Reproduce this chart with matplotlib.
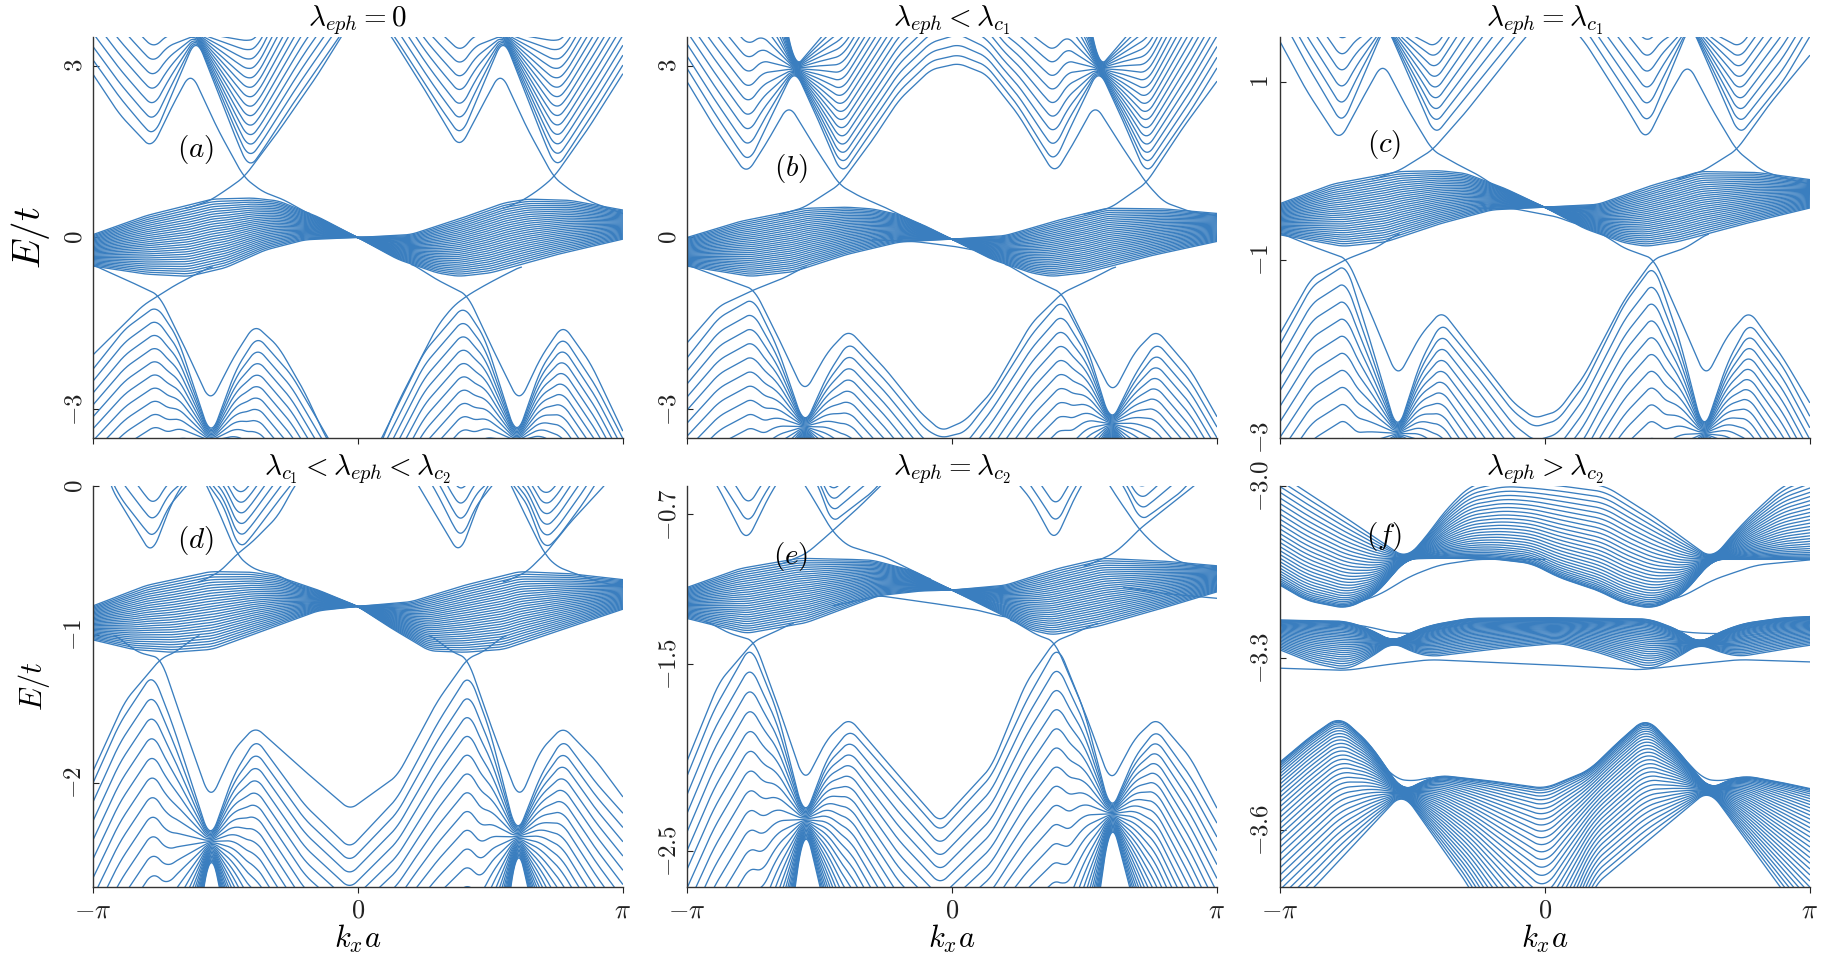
import numpy as np
import matplotlib
matplotlib.use('Agg')
import matplotlib.pyplot as plt

plt.rcParams['mathtext.fontset'] = 'cm'
plt.rcParams['font.family'] = 'DejaVu Serif'

BLUE = '#3a7ebf'
LW = 0.95

# ---- band data: (k/pi, E/t) key points ----
# panel (a)  lambda_eph = 0
a_up_lo = [(-1.0, 3.1), (-0.9, 2.45), (-0.81, 1.95), (-0.77, 1.76), (-0.72, 2.3), (-0.61, 3.5), (-0.5, 2.2),
           (-0.44, 1.5), (-0.41, 1.2), (-0.37, 1.45), (-0.25, 2.3), (-0.07, 3.5), (0.03, 4.2), (0.14, 3.5),
           (0.3, 2.35), (0.36, 1.95), (0.39, 1.76), (0.44, 2.3), (0.55, 3.5), (0.66, 2.2), (0.72, 1.5),
           (0.75, 1.2), (0.79, 1.47), (0.9, 2.25), (1.0, 3.0)]
a_up_hi = [(-1.0, 6.6), (-0.72, 5.4), (-0.61, 3.6), (-0.38, 3.8), (-0.2, 5.6), (0.03, 7.0), (0.25, 5.6),
           (0.44, 5.4), (0.55, 3.6), (0.78, 3.8), (1.0, 5.6)]
a_mid_1 = [(-1.0, 0.05), (-0.8, 0.38), (-0.55, 0.67), (-0.4, 0.69), (-0.3, 0.64), (-0.15, 0.36), (0.0, 0.0),
           (0.15, -0.38), (0.3, -0.62), (0.38, -0.68), (0.5, -0.62), (0.75, -0.3), (1.0, -0.03)]
a_mid_2 = [(-1.0, -0.5), (-0.8, -0.64), (-0.64, -0.68), (-0.5, -0.53), (-0.35, -0.22), (-0.2, -0.04), (0.0, 0.0),
           (0.2, 0.05), (0.4, 0.35), (0.55, 0.6), (0.64, 0.67), (0.8, 0.65), (1.0, 0.48)]
a_lo_hi = [(-1.0, -2.3), (-0.88, -1.6), (-0.76, -1.19), (-0.68, -1.75), (-0.555, -3.5), (-0.46, -2.3),
           (-0.38, -1.72), (-0.25, -2.4), (-0.1, -3.6), (0.0, -4.3), (0.08, -3.6), (0.25, -2.0), (0.4, -1.19),
           (0.48, -1.75), (0.6, -3.5), (0.69, -2.3), (0.775, -1.72), (0.9, -2.6), (1.0, -3.5)]
a_lo_lo = [(-1.0, -7.5), (-0.72, -6.9), (-0.555, -3.65), (-0.4, -6.7), (-0.2, -8.0), (0.0, -9.0), (0.2, -8.0),
           (0.44, -6.9), (0.6, -3.65), (0.78, -6.7), (1.0, -8.0)]
a_edges = [
    [(-1.0, 2.85), (-0.9, 2.15), (-0.778, 1.55), (-0.7, 2.3), (-0.63, 2.9), (-0.53, 1.9), (-0.43, 1.05),
     (-0.36, 0.8), (-0.28, 0.66), (-0.18, 0.4)],
    [(-0.65, 0.5), (-0.56, 0.64), (-0.5, 0.82), (-0.43, 1.05), (-0.3, 1.85), (-0.15, 2.85), (-0.05, 3.6),
     (0.03, 4.0), (0.114, 3.6), (0.25, 2.6), (0.385, 1.55), (0.47, 2.3), (0.54, 2.9), (0.64, 1.9), (0.74, 1.05),
     (0.81, 0.8), (0.88, 0.62), (1.0, 0.42)],
    [(0.55, 0.5), (0.62, 0.64), (0.68, 0.82), (0.74, 1.05), (0.87, 1.9), (1.0, 2.85)],
    [(-1.0, -0.48), (-0.86, -0.77), (-0.75, -1.01), (-0.65, -1.95), (-0.557, -2.89), (-0.47, -2.1),
     (-0.39, -1.52), (-0.3, -1.9), (-0.2, -2.7), (-0.12, -3.5), (-0.05, -4.0)],
    [(-1.0, -2.05), (-0.88, -1.5), (-0.81, -1.18), (-0.75, -1.01), (-0.7, -0.86), (-0.64, -0.71),
     (-0.55, -0.5)],
    [(0.05, -4.0), (0.15, -2.9), (0.3, -1.55), (0.36, -1.2), (0.415, -1.01), (0.47, -0.86), (0.53, -0.71),
     (0.62, -0.5)],
    [(0.2, -0.45), (0.3, -0.74), (0.415, -1.01), (0.51, -1.95), (0.61, -2.89), (0.69, -2.1), (0.775, -1.52),
     (0.88, -2.2), (1.0, -3.37)],
]

# panel (b)  lambda_eph < lambda_c1
b_up_lo = [(-1.0, 2.95), (-0.9, 2.2), (-0.8, 1.5), (-0.766, 1.3), (-0.72, 1.75), (-0.594, 2.95), (-0.5, 2.0),
           (-0.45, 1.45), (-0.415, 1.09), (-0.37, 1.4), (-0.2, 2.55), (-0.08, 3.08), (0.025, 3.19), (0.13, 3.0),
           (0.25, 2.3), (0.35, 1.55), (0.388, 1.3), (0.43, 1.75), (0.555, 2.95), (0.65, 2.0), (0.7, 1.45),
           (0.734, 1.09), (0.78, 1.4), (0.9, 2.2), (1.0, 2.95)]
b_up_hi = [(-1.0, 7.0), (-0.72, 6.0), (-0.594, 2.95), (-0.4, 4.0), (-0.2, 5.6), (0.025, 6.6), (0.2, 5.6),
           (0.43, 6.0), (0.555, 2.95), (0.75, 4.0), (1.0, 6.5)]
b_mid_1 = [(-1.0, 0.0), (-0.8, 0.28), (-0.55, 0.51), (-0.4, 0.53), (-0.3, 0.5), (-0.2, 0.4), (-0.1, 0.2),
           (0.0, -0.03), (0.15, -0.38), (0.3, -0.62), (0.376, -0.68), (0.5, -0.62), (0.75, -0.32), (1.0, -0.07)]
b_mid_2 = [(-1.0, -0.5), (-0.76, -0.68), (-0.6, -0.6), (-0.4, -0.3), (-0.2, -0.08), (0.0, -0.03), (0.2, 0.03),
           (0.4, 0.3), (0.585, 0.51), (0.8, 0.5), (1.0, 0.42)]
b_lo_hi = [(-1.0, -2.1), (-0.88, -1.4), (-0.75, -1.06), (-0.66, -1.9), (-0.557, -3.3), (-0.47, -2.4),
           (-0.39, -1.82), (-0.25, -2.5), (-0.1, -3.35), (-0.04, -3.5), (0.05, -3.4), (0.15, -2.8), (0.3, -1.7),
           (0.416, -1.08), (0.51, -1.9), (0.6, -3.25), (0.69, -2.4), (0.772, -1.82), (0.9, -2.5), (1.0, -3.3)]
b_lo_lo = [(-1.0, -7.8), (-0.72, -7.2), (-0.557, -3.3), (-0.4, -6.8), (-0.2, -8.0), (0.0, -9.0), (0.2, -8.0),
           (0.44, -7.2), (0.6, -3.25), (0.78, -6.8), (1.0, -8.0)]
b_edges = [
    [(-1.0, 2.72), (-0.9, 1.95), (-0.776, 1.1), (-0.7, 1.65), (-0.616, 2.33), (-0.52, 1.6), (-0.425, 0.92),
     (-0.35, 0.72), (-0.25, 0.52), (-0.12, 0.22)],
    [(-0.65, 0.4), (-0.56, 0.52), (-0.425, 0.92), (-0.3, 1.7), (-0.2, 2.4), (-0.08, 2.93), (0.025, 3.04),
     (0.13, 2.85), (0.25, 2.15), (0.388, 1.1), (0.46, 1.65), (0.54, 2.33), (0.64, 1.6), (0.734, 0.95),
     (0.8, 0.62), (0.9, 0.45), (1.0, 0.38)],
    [(0.5, 0.4), (0.6, 0.52), (0.734, 0.95), (0.87, 1.9), (1.0, 2.72)],
    [(-1.0, -0.48), (-0.86, -0.72), (-0.746, -0.91), (-0.65, -1.8), (-0.557, -2.72), (-0.47, -2.0),
     (-0.39, -1.61), (-0.25, -2.3), (-0.12, -3.05), (-0.04, -3.38), (0.05, -3.2), (0.15, -2.7), (0.3, -1.5),
     (0.416, -0.97), (0.53, -0.72), (0.62, -0.5)],
    [(-1.0, -1.84), (-0.88, -1.2), (-0.746, -0.91), (-0.64, -0.72), (-0.55, -0.5)],
    [(0.2, -0.45), (0.3, -0.72), (0.416, -0.97), (0.51, -1.85), (0.607, -2.74), (0.69, -2.0), (0.772, -1.61),
     (0.9, -2.3), (1.0, -3.12)],
    [(-0.3, -0.04), (-0.135, -0.073), (0.016, -0.16), (0.08, -0.22)],
]

# panel (c)  lambda_eph = lambda_c1
c_up_lo = [(-1.0, 1.75), (-0.9, 1.2), (-0.8, 0.7), (-0.765, 0.51), (-0.72, 0.82), (-0.6, 1.65), (-0.5, 0.97),
           (-0.45, 0.63), (-0.415, 0.39), (-0.37, 0.56), (-0.25, 1.0), (-0.1, 1.55), (0.03, 2.0), (0.15, 1.6),
           (0.3, 0.92), (0.36, 0.65), (0.39, 0.51), (0.435, 0.82), (0.55, 1.65), (0.65, 0.97), (0.7, 0.63),
           (0.735, 0.39), (0.78, 0.56), (0.9, 1.0), (1.0, 1.5)]
c_up_hi = [(-1.0, 3.8), (-0.72, 3.2), (-0.6, 1.7), (-0.4, 2.3), (-0.2, 3.5), (0.03, 4.5), (0.2, 3.5),
           (0.43, 3.2), (0.55, 1.7), (0.75, 2.3), (1.0, 3.5)]
c_mid_1 = [(-1.0, -0.37), (-0.8, -0.15), (-0.55, -0.01), (-0.4, 0.0), (-0.3, -0.03), (-0.15, -0.2),
           (0.0, -0.41), (0.15, -0.65), (0.3, -0.81), (0.383, -0.85), (0.5, -0.8), (0.75, -0.6), (1.0, -0.42)]
c_mid_2 = [(-1.0, -0.72), (-0.763, -0.85), (-0.6, -0.8), (-0.4, -0.6), (-0.2, -0.44), (0.0, -0.41),
           (0.2, -0.38), (0.4, -0.17), (0.586, -0.01), (0.8, -0.02), (1.0, -0.1)]
c_lo_hi = [(-1.0, -1.95), (-0.88, -1.3), (-0.75, -1.05), (-0.66, -1.9), (-0.556, -2.95), (-0.47, -2.15),
           (-0.39, -1.7), (-0.25, -2.2), (-0.12, -2.7), (-0.04, -2.88), (0.05, -2.8), (0.15, -2.4), (0.3, -1.5),
           (0.412, -1.05), (0.51, -1.9), (0.6, -2.95), (0.69, -2.15), (0.772, -1.7), (0.9, -2.2), (1.0, -2.75)]
c_lo_lo = [(-1.0, -6.3), (-0.72, -5.8), (-0.556, -2.95), (-0.4, -4.8), (-0.2, -6.0), (0.0, -6.8), (0.2, -6.0),
           (0.44, -5.8), (0.6, -2.95), (0.78, -4.8), (1.0, -6.0)]
c_edges = [
    [(-1.0, 1.45), (-0.9, 0.9), (-0.775, 0.33), (-0.69, 0.8), (-0.611, 1.22), (-0.52, 0.7), (-0.425, 0.23),
     (-0.33, 0.07), (-0.25, -0.05), (-0.15, -0.25)],
    [(-0.65, -0.1), (-0.55, 0.0), (-0.425, 0.23), (-0.3, 0.65), (-0.1, 1.4), (0.03, 1.85), (0.15, 1.45),
     (0.3, 0.75), (0.383, 0.33), (0.46, 0.8), (0.54, 1.21), (0.63, 0.7), (0.724, 0.23), (0.82, 0.0),
     (0.9, -0.08), (1.0, -0.15)],
    [(0.5, -0.1), (0.6, 0.0), (0.724, 0.23), (0.85, 0.75), (1.0, 1.29)],
    [(-1.0, -0.7), (-0.86, -0.87), (-0.746, -0.99), (-0.65, -1.65), (-0.556, -2.33), (-0.47, -1.85),
     (-0.389, -1.57), (-0.25, -2.1), (-0.12, -2.6), (-0.04, -2.78), (0.05, -2.7), (0.15, -2.3), (0.3, -1.45),
     (0.412, -0.99), (0.53, -0.87), (0.62, -0.7)],
    [(-1.0, -1.83), (-0.88, -1.2), (-0.746, -0.99), (-0.64, -0.87), (-0.55, -0.7)],
    [(0.2, -0.68), (0.3, -0.87), (0.412, -0.99), (0.51, -1.65), (0.608, -2.33), (0.69, -1.85), (0.772, -1.57),
     (0.9, -2.1), (1.0, -2.6)],
    [(-0.25, -0.42), (-0.12, -0.425), (0.044, -0.517), (0.12, -0.6)],
]

# panel (d)  lambda_c1 < lambda_eph < lambda_c2
d_up_lo = [(-1.0, 0.3), (-0.9, -0.07), (-0.8, -0.3), (-0.768, -0.36), (-0.72, -0.15), (-0.6, 0.1),
           (-0.5, -0.15), (-0.47, -0.33), (-0.447, -0.43), (-0.41, -0.36), (-0.3, -0.1), (-0.1, 0.35),
           (0.03, 0.6), (0.15, 0.4), (0.3, -0.05), (0.37, -0.3), (0.395, -0.36), (0.44, -0.15), (0.55, 0.1),
           (0.65, -0.15), (0.68, -0.33), (0.706, -0.43), (0.75, -0.36), (0.85, -0.12), (1.0, 0.3)]
d_up_hi = [(-1.0, 1.8), (-0.72, 0.95), (-0.6, 0.4), (-0.42, 0.55), (-0.2, 1.2), (0.03, 1.6), (0.2, 1.2),
           (0.44, 0.95), (0.55, 0.4), (0.74, 0.55), (1.0, 1.5)]
d_mid_1 = [(-1.0, -0.807), (-0.8, -0.67), (-0.557, -0.576), (-0.4, -0.58), (-0.3, -0.61), (-0.15, -0.7),
           (0.0, -0.81), (0.12, -0.95), (0.27, -1.11), (0.4, -1.12), (0.55, -1.1), (0.75, -0.98), (1.0, -0.83)]
d_mid_2 = [(-1.0, -1.036), (-0.85, -1.1), (-0.704, -1.12), (-0.55, -1.1), (-0.35, -0.97), (-0.15, -0.84),
           (0.0, -0.81), (0.2, -0.78), (0.4, -0.67), (0.61, -0.576), (0.8, -0.59), (1.0, -0.63)]
d_lo_hi = [(-1.0, -2.0), (-0.9, -1.6), (-0.774, -1.26), (-0.7, -1.6), (-0.557, -2.39), (-0.47, -1.95),
           (-0.385, -1.7), (-0.2, -2.15), (-0.03, -2.44), (0.15, -2.1), (0.3, -1.6), (0.42, -1.26), (0.5, -1.65),
           (0.6, -2.36), (0.69, -1.95), (0.775, -1.7), (0.9, -2.0), (1.0, -2.2)]
d_lo_lo = [(-1.0, -5.2), (-0.72, -4.46), (-0.557, -2.4), (-0.4, -3.78), (-0.2, -4.5), (-0.03, -4.7),
           (0.2, -4.5), (0.46, -4.46), (0.6, -2.37), (0.78, -3.78), (1.0, -4.6)]
d_edges = [
    [(-1.0, 0.45), (-0.936, 0.0), (-0.778, -0.464), (-0.7, -0.1), (-0.61, 0.15), (-0.53, -0.15),
     (-0.457, -0.46), (-0.41, -0.54), (-0.364, -0.576), (-0.3, -0.6), (-0.2, -0.7)],
    [(-0.6, -0.65), (-0.52, -0.576), (-0.49, -0.52), (-0.457, -0.46), (-0.4, -0.38), (-0.3, -0.2),
     (-0.24, 0.0), (0.03, 0.6), (0.23, 0.0), (0.385, -0.464), (0.46, -0.1), (0.54, 0.15), (0.62, -0.15),
     (0.706, -0.46), (0.75, -0.54), (0.8, -0.576), (0.9, -0.64), (1.0, -0.68)],
    [(0.55, -0.65), (0.64, -0.576), (0.67, -0.52), (0.706, -0.46), (0.8, -0.25), (0.93, 0.0), (1.0, 0.15)],
    [(-0.92, -1.0), (-0.83, -1.12), (-0.743, -1.16), (-0.65, -1.65), (-0.557, -2.12), (-0.47, -1.78),
     (-0.388, -1.62), (-0.2, -1.92), (-0.03, -2.18), (0.15, -1.95), (0.3, -1.45), (0.415, -1.16),
     (0.47, -1.12), (0.56, -1.0)],
    [(-1.0, -1.92), (-0.88, -1.45), (-0.743, -1.16), (-0.69, -1.12), (-0.6, -1.0)],
    [(0.27, -1.0), (0.36, -1.12), (0.415, -1.16), (0.51, -1.65), (0.61, -2.12), (0.69, -1.78), (0.775, -1.62),
     (0.9, -1.85), (1.0, -2.09)],
]

# panel (e)  lambda_eph = lambda_c2
e_up_lo = [(-1.0, -0.2), (-0.9, -0.46), (-0.8, -0.68), (-0.768, -0.76), (-0.72, -0.62), (-0.6, -0.35),
           (-0.5, -0.55), (-0.475, -0.67), (-0.455, -0.748), (-0.42, -0.71), (-0.3, -0.58), (-0.1, -0.25),
           (0.03, -0.05), (0.15, -0.25), (0.3, -0.55), (0.37, -0.7), (0.395, -0.76), (0.44, -0.62), (0.55, -0.35),
           (0.65, -0.55), (0.69, -0.67), (0.712, -0.735), (0.75, -0.7), (0.87, -0.575), (1.0, -0.35)]
e_up_hi = [(-1.0, 1.0), (-0.72, 0.44), (-0.6, -0.3), (-0.42, 0.05), (-0.2, 0.6), (0.03, 1.0), (0.2, 0.6),
           (0.44, 0.44), (0.55, -0.3), (0.74, 0.05), (1.0, 0.8)]
e_mid_1 = [(-1.0, -1.091), (-0.8, -0.99), (-0.578, -0.935), (-0.4, -0.94), (-0.3, -0.945), (-0.15, -1.0),
           (0.0, -1.105), (0.15, -1.21), (0.3, -1.32), (0.38, -1.345), (0.55, -1.3), (0.8, -1.2), (1.0, -1.115)]
e_mid_2 = [(-1.0, -1.257), (-0.776, -1.337), (-0.55, -1.28), (-0.4, -1.2), (-0.276, -1.135), (-0.12, -1.11),
           (0.0, -1.105), (0.2, -1.08), (0.4, -0.99), (0.566, -0.935), (0.8, -0.95), (1.0, -0.975)]
e_lo_hi = [(-1.0, -2.1), (-0.9, -1.75), (-0.76, -1.4), (-0.66, -1.75), (-0.557, -2.33), (-0.47, -2.0),
           (-0.385, -1.85), (-0.2, -2.15), (-0.045, -2.4), (0.15, -2.1), (0.28, -1.7), (0.4, -1.4), (0.5, -1.75),
           (0.6, -2.3), (0.69, -2.0), (0.772, -1.85), (0.9, -2.1), (1.0, -2.35)]
e_lo_lo = [(-1.0, -4.6), (-0.72, -4.0), (-0.557, -2.34), (-0.4, -3.28), (-0.2, -4.0), (-0.045, -4.15),
           (0.2, -4.0), (0.43, -4.0), (0.6, -2.31), (0.78, -3.28), (1.0, -4.2)]
e_edges = [
    [(-1.0, -0.3), (-0.885, -0.548), (-0.776, -0.85), (-0.69, -0.6), (-0.61, -0.42), (-0.53, -0.6),
     (-0.452, -0.79), (-0.395, -0.867), (-0.25, -0.93), (-0.15, -1.0), (-0.08, -1.05)],
    [(-0.65, -0.97), (-0.55, -0.91), (-0.5, -0.85), (-0.452, -0.79), (-0.35, -0.66), (-0.2, -0.45),
     (0.03, -0.2), (0.2, -0.45), (0.3, -0.62), (0.388, -0.85), (0.46, -0.62), (0.54, -0.42), (0.62, -0.6),
     (0.707, -0.78), (0.77, -0.87), (0.85, -0.95), (1.0, -1.0)],
    [(0.5, -0.98), (0.61, -0.91), (0.66, -0.85), (0.707, -0.78), (0.85, -0.62), (1.0, -0.45)],
    [(-0.93, -1.27), (-0.84, -1.337), (-0.746, -1.377), (-0.65, -1.75), (-0.557, -2.14), (-0.47, -1.9),
     (-0.388, -1.79), (-0.2, -2.1), (-0.045, -2.35), (0.15, -2.05), (0.28, -1.6), (0.388, -1.38),
     (0.45, -1.345), (0.55, -1.28)],
    [(-1.0, -2.02), (-0.88, -1.6), (-0.746, -1.377), (-0.68, -1.337), (-0.6, -1.28)],
    [(0.22, -1.26), (0.32, -1.345), (0.388, -1.38), (0.5, -1.75), (0.6, -2.14), (0.69, -1.9), (0.772, -1.79),
     (0.9, -2.0), (1.0, -2.27)],
    [(-0.45, -1.19), (-0.276, -1.135), (-0.1, -1.17), (0.092, -1.211), (0.2, -1.25)],
    [(0.65, -1.09), (0.803, -1.124), (1.0, -1.149)],
]

# panel (f)  lambda_eph > lambda_c2
f_top_lo = [(-1.0, -3.173), (-0.9, -3.2), (-0.749, -3.214), (-0.64, -3.19), (-0.523, -3.127), (-0.4, -3.126),
            (-0.2, -3.127), (-0.05, -3.135), (0.055, -3.16), (0.2, -3.182), (0.3, -3.205), (0.408, -3.214),
            (0.52, -3.19), (0.634, -3.128), (0.8, -3.128), (1.0, -3.128)]
f_top_hi = [(-1.0, -2.98), (-0.749, -3.056), (-0.523, -3.127), (-0.45, -3.09), (-0.38, -3.045), (-0.284, -3.0),
            (-0.15, -2.985), (0.05, -2.99), (0.23, -3.0), (0.408, -3.052), (0.52, -3.09), (0.634, -3.128),
            (0.7, -3.09), (0.77, -3.055), (0.898, -3.0), (1.0, -2.98)]
f_mid_hi = [(-1.0, -3.234), (-0.75, -3.236), (-0.66, -3.25), (-0.574, -3.272), (-0.5, -3.255), (-0.43, -3.243),
            (-0.286, -3.231), (0.0, -3.23), (0.395, -3.232), (0.5, -3.25), (0.584, -3.275), (0.66, -3.255),
            (0.75, -3.24), (0.9, -3.23), (1.0, -3.228)]
f_mid_lo = [(-1.0, -3.286), (-0.87, -3.31), (-0.749, -3.321), (-0.66, -3.3), (-0.574, -3.272), (-0.5, -3.29),
            (-0.43, -3.298), (-0.2, -3.285), (0.055, -3.274), (0.2, -3.29), (0.395, -3.321), (0.5, -3.3),
            (0.584, -3.275), (0.66, -3.29), (0.735, -3.298), (0.9, -3.285), (1.0, -3.278)]
f_lo_hi = [(-1.0, -3.482), (-0.887, -3.438), (-0.775, -3.402), (-0.662, -3.449), (-0.536, -3.534),
           (-0.46, -3.515), (-0.397, -3.505), (-0.2, -3.515), (0.0, -3.528), (0.169, -3.496), (0.27, -3.45),
           (0.383, -3.404), (0.5, -3.46), (0.621, -3.53), (0.7, -3.512), (0.76, -3.506), (0.9, -3.518),
           (1.0, -3.528)]
f_lo_lo = [(-1.0, -3.76), (-0.87, -3.7), (-0.536, -3.535), (-0.284, -3.7), (0.0, -3.95), (0.18, -3.7),
           (0.621, -3.53), (0.89, -3.7), (1.0, -3.77)]
f_edges = [
    [(-0.72, -3.205), (-0.624, -3.19), (-0.511, -3.158), (-0.4, -3.138), (-0.259, -3.128), (0.0, -3.128)],
    [(0.42, -3.205), (0.521, -3.193), (0.634, -3.164), (0.798, -3.138), (1.0, -3.129)],
    [(-0.8, -3.236), (-0.662, -3.246), (-0.574, -3.256), (-0.486, -3.258), (-0.3, -3.24), (-0.158, -3.231)],
    [(0.35, -3.233), (0.508, -3.254), (0.584, -3.257), (0.685, -3.258), (0.85, -3.238), (1.0, -3.228)],
    [(-1.0, -3.318), (-0.749, -3.322), (-0.6, -3.312), (-0.435, -3.303), (0.055, -3.313), (0.357, -3.321),
     (0.5, -3.314), (0.735, -3.303), (1.0, -3.307)],
    [(-0.64, -3.47), (-0.57, -3.51), (-0.5, -3.516), (-0.43, -3.508)],
    [(0.52, -3.47), (0.59, -3.51), (0.66, -3.516), (0.73, -3.508)],
]

titles = [r'$\lambda_{eph}=0$', r'$\lambda_{eph}<\lambda_{c_1}$', r'$\lambda_{eph}=\lambda_{c_1}$',
          r'$\lambda_{c_1}<\lambda_{eph}<\lambda_{c_2}$', r'$\lambda_{eph}=\lambda_{c_2}$',
          r'$\lambda_{eph}>\lambda_{c_2}$']
tags = ['(a)', '(b)', '(c)', '(d)', '(e)', '(f)']
ylims = [(-3.5, 3.5), (-3.5, 3.5), (-3.0, 1.5), (-2.7, 0.0), (-2.695, -0.548), (-3.7, -3.0)]
yticks = [[-3, 0, 3], [-3, 0, 3], [-3, -1, 1], [-2, -1, 0], [-2.5, -1.5, -0.7], [-3.6, -3.3, -3.0]]
ytick_labels = [['$-3$', '$0$', '$3$'], ['$-3$', '$0$', '$3$'], ['$-3$', '$-1$', '$1$'],
                ['$-2$', '$-1$', '$0$'], ['$-2.5$', '$-1.5$', '$-0.7$'], ['$-3.6$', '$-3.3$', '$-3.0$']]
tag_pos = [(0.193, 0.72), (0.196, 0.671), (0.196, 0.731), (0.193, 0.863), (0.196, 0.825), (0.196, 0.873)]

# (near curve, far curve, number of lines, spacing exponent)
families = [
    [(a_up_lo, a_up_hi, 16, 1.0), (a_mid_1, a_mid_2, 30, 1.0), (a_lo_hi, a_lo_lo, 26, 1.0)],
    [(b_up_lo, b_up_hi, 20, 1.0), (b_mid_1, b_mid_2, 30, 1.0), (b_lo_hi, b_lo_lo, 26, 1.0)],
    [(c_up_lo, c_up_hi, 16, 1.0), (c_mid_1, c_mid_2, 30, 1.0), (c_lo_hi, c_lo_lo, 26, 1.0)],
    [(d_up_lo, d_up_hi, 14, 1.0), (d_mid_1, d_mid_2, 30, 1.0), (d_lo_hi, d_lo_lo, 26, 1.0)],
    [(e_up_lo, e_up_hi, 14, 1.0), (e_mid_1, e_mid_2, 30, 1.0), (e_lo_hi, e_lo_lo, 26, 1.0)],
    [(f_top_lo, f_top_hi, 30, 1.6), (f_mid_hi, f_mid_lo, 30, 1.5), (f_lo_hi, f_lo_lo, 32, 1.6)],
]
edges = [a_edges, b_edges, c_edges, d_edges, e_edges, f_edges]
smooth = [0.05, 0.05, 0.05, 0.05, 0.05, 0.08]

kk = np.linspace(-1.0, 1.0, 801)


def curve(pts, win):
    k = np.array([p[0] for p in pts])
    e = np.array([p[1] for p in pts])
    y = np.interp(kk, k, e)
    n = int(round(win / (kk[1] - kk[0])))
    if n % 2 == 0:
        n += 1
    ypad = np.pad(y, n // 2, mode='reflect', reflect_type='odd')
    return np.convolve(ypad, np.ones(n) / n, mode='valid')


fig = plt.figure(figsize=(18.23, 9.63), dpi=100)
lefts = [0.0510, 0.3769, 0.7021]
bottoms = [0.5452, 0.0789]
w, h = 0.2905, 0.4164

for i in range(6):
    ax = fig.add_axes([lefts[i % 3], bottoms[i // 3], w, h])
    win = smooth[i]
    for near, far, n, p in families[i]:
        a = curve(near, win)
        b = curve(far, win)
        for j in range(n):
            s = (j / (n - 1)) ** p
            ax.plot(kk * np.pi, a + s * (b - a), color=BLUE, lw=LW)
    for ed in edges[i]:
        k0, k1 = ed[0][0], ed[-1][0]
        m = (kk >= k0) & (kk <= k1)
        ax.plot(kk[m] * np.pi, curve(ed, win)[m], color=BLUE, lw=LW)

    ax.set_xlim(-np.pi, np.pi)
    ax.set_ylim(*ylims[i])
    for sp in ['top', 'right']:
        ax.spines[sp].set_visible(False)
    for sp in ['left', 'bottom']:
        ax.spines[sp].set_color('#333333')
        ax.spines[sp].set_linewidth(1.0)
    ax.set_xticks([-np.pi, 0, np.pi])
    if i >= 3:
        ax.set_xticklabels([r'$-\pi$', r'$0$', r'$\pi$'], fontsize=19)
        ax.set_xlabel(r'$k_xa$', fontsize=22, labelpad=0)
    else:
        ax.set_xticklabels([])
    ax.set_yticks(yticks[i])
    ax.set_yticklabels(ytick_labels[i], rotation=90, va='center', fontsize=18)
    ax.tick_params(axis='y', direction='in', length=4, width=0.8, pad=5, colors='#222222')
    ax.tick_params(axis='x', direction='out', length=4, width=0.8, colors='#222222')
    ax.set_title(titles[i], fontsize=21, pad=2)
    ax.text(tag_pos[i][0], tag_pos[i][1], '$' + tags[i] + '$', transform=ax.transAxes,
            fontsize=21, ha='center', va='center')

fig.axes[0].set_ylabel(r'$E/t$', fontsize=28, labelpad=8)
fig.axes[3].set_ylabel(r'$E/t$', fontsize=22, labelpad=8)

fig.savefig('out.png', dpi=100)
